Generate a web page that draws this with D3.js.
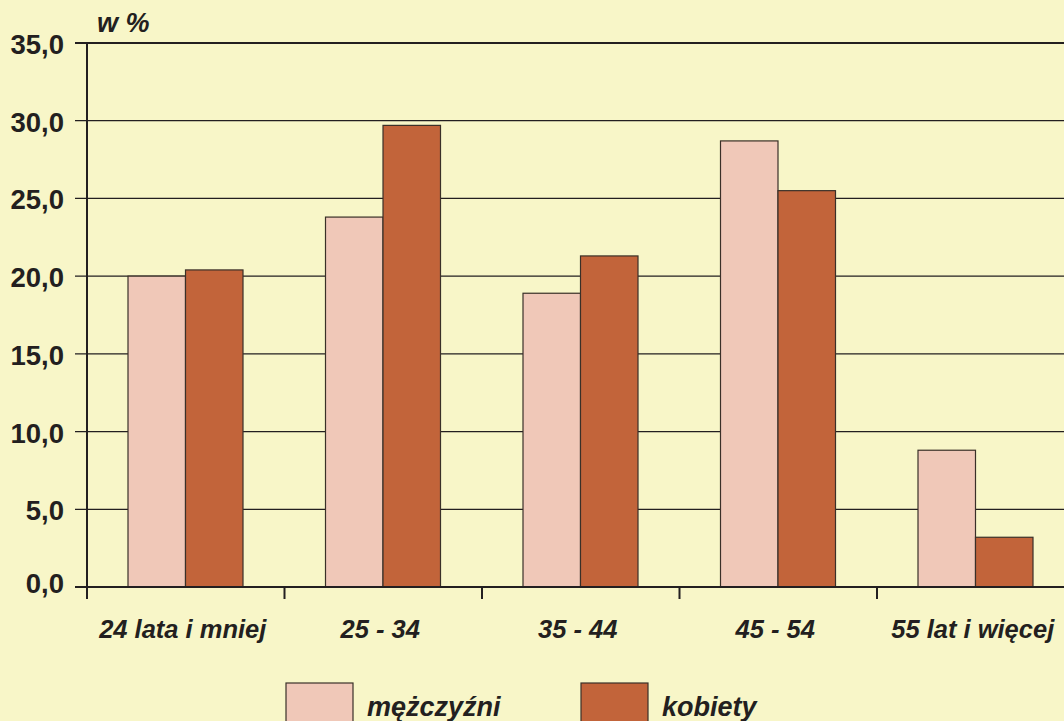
<!DOCTYPE html>
<html>
<head>
<meta charset="utf-8">
<title>w %</title>
<style>
body { margin: 0; background: #f8f6c8; }
svg { display: block; }
text { font-family: "Liberation Sans", Arial, sans-serif; fill: #231f20; font-weight: bold; }
.tick-label { font-size: 27.5px; }
.cat-label { font-size: 25.5px; font-style: italic; }
.unit { font-size: 27px; font-style: italic; }
.legend text { font-size: 27px; font-style: italic; }
</style>
</head>
<body>
<script src="https://cdn.jsdelivr.net/npm/d3@7/dist/d3.min.js"></script>
<svg id="chart" width="1064" height="721"></svg>
<script>
const categories = ['24 lata i mniej', '25 - 34', '35 - 44', '45 - 54', '55 lat i więcej'];
const men = [20.0, 23.8, 18.9, 28.7, 8.8];
const women = [20.4, 29.7, 21.3, 25.5, 3.2];
const seriesNames = ['mężczyźni', 'kobiety'];
const seriesColors = ['#f0c8b8', '#c2643a'];
const yTicks = [0, 5, 10, 15, 20, 25, 30, 35];

const svg = d3.select('#chart');
const plotLeft = 87, plotTop = 43, plotBottom = 587;
const bandW = 197.5;

const x = d3.scaleBand()
    .domain(categories)
    .range([plotLeft, plotLeft + bandW * categories.length]);

const y = d3.scaleLinear()
    .domain([0, 35])
    .range([plotBottom, plotTop]);

const fmt = d => d.toFixed(1).replace('.', ',');

// gridlines
svg.append('g')
    .selectAll('line')
    .data(yTicks)
    .join('line')
        .attr('x1', plotLeft - 12)
        .attr('x2', 1064)
        .attr('y1', d => y(d))
        .attr('y2', d => y(d))
        .attr('stroke', '#231f20')
        .attr('stroke-width', d => (d === 0 || d === 35) ? 2 : 1.3);

// y tick labels (0,0 sits a little higher in the original)
svg.append('g')
    .selectAll('text')
    .data(yTicks)
    .join('text')
        .attr('class', 'tick-label')
        .attr('x', plotLeft - 23)
        .attr('y', d => y(d) + (d === 0 ? 6 : 11))
        .attr('text-anchor', 'end')
        .text(fmt);

svg.append('text')
    .attr('class', 'unit')
    .attr('x', 97)
    .attr('y', 32)
    .text('w %');

// bars
const inner = d3.scaleBand()
    .domain([0, 1])
    .range([41, 41 + 115]);

const rows = categories.map((c, i) => ({c, vals: [men[i], women[i]]}));

const groups = svg.append('g')
    .selectAll('g')
    .data(rows)
    .join('g')
        .attr('transform', d => `translate(${x(d.c)},0)`);

groups.selectAll('rect')
    .data(d => d.vals.map((v, s) => ({v, s})))
    .join('rect')
        .attr('x', d => inner(d.s))
        .attr('width', inner.bandwidth())
        .attr('y', d => y(d.v))
        .attr('height', d => y(0) - y(d.v))
        .attr('fill', d => seriesColors[d.s])
        .attr('stroke', '#3a3028')
        .attr('stroke-width', 1.2);

// axes lines
svg.append('line')
    .attr('x1', plotLeft).attr('x2', plotLeft)
    .attr('y1', plotTop).attr('y2', plotBottom + 12)
    .attr('stroke', '#231f20').attr('stroke-width', 2);

svg.append('line')
    .attr('x1', plotLeft).attr('x2', 1064)
    .attr('y1', plotBottom).attr('y2', plotBottom)
    .attr('stroke', '#231f20').attr('stroke-width', 2);

// x tick marks between categories
svg.append('g')
    .selectAll('line')
    .data(categories.slice(1))
    .join('line')
        .attr('x1', d => x(d)).attr('x2', d => x(d))
        .attr('y1', plotBottom).attr('y2', plotBottom + 12)
        .attr('stroke', '#231f20').attr('stroke-width', 2);

svg.append('g')
    .selectAll('text')
    .data(categories)
    .join('text')
        .attr('class', 'cat-label')
        .attr('x', d => x(d) + bandW / 2 - 3)
        .attr('y', 638)
        .attr('text-anchor', 'middle')
        .text(d => d);

// legend
const legend = svg.append('g').attr('class', 'legend');
const legendX = [286, 581];
seriesNames.forEach((name, i) => {
    legend.append('rect')
        .attr('x', legendX[i]).attr('y', 683)
        .attr('width', 67).attr('height', 50)
        .attr('fill', seriesColors[i])
        .attr('stroke', '#3a3028').attr('stroke-width', 1.2);
    legend.append('text')
        .attr('x', legendX[i] + 81)
        .attr('y', 716)
        .text(name);
});
</script>
</body>
</html>
